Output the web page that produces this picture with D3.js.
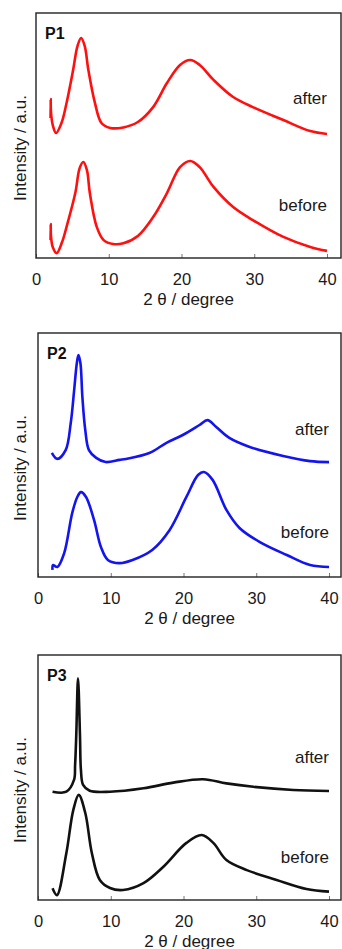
<!DOCTYPE html>
<html>
<head>
<meta charset="utf-8">
<script src="https://cdn.jsdelivr.net/npm/d3@7"></script>
<style>
  body { margin: 0; background: #fff; }
  svg { display: block; font-family: "Liberation Sans", Arial, sans-serif; }
</style>
</head>
<body>
<svg width="342" height="949"></svg>
<script>
// 2 theta (degree) / intensity (a.u., 0-100 per panel)
const xTicks = [0, 10, 20, 30, 40];

const p1AfterX = [2.0, 2.02, 2.06, 2.3, 2.75, 3.5, 4.2, 5.1, 5.7, 6.2, 6.7, 7.2, 8.1, 9.0, 10.2, 12.0, 14.0, 16.1, 18, 19.8, 21.2, 22.5, 24.4, 27.1, 29.8, 34, 37.7, 40];
const p1AfterY = [57.1, 64.9, 59.6, 54.3, 51.0, 55.1, 63.3, 76.7, 86.5, 89.8, 86.5, 76.7, 63.3, 55.1, 53.1, 53.3, 55.5, 61.6, 71.4, 78.8, 80.8, 78.8, 72.7, 65.7, 61.6, 56.3, 51.8, 50.6];
const p1BeforeX = [2.0, 2.02, 2.06, 2.3, 2.85, 3.6, 4.2, 5.4, 6.0, 6.5, 7.0, 7.4, 8.35, 9.3, 10.6, 12.0, 14.0, 16.1, 18, 19.8, 21.2, 22.5, 24.4, 27.1, 29.8, 34, 37.7, 40];
const p1BeforeY = [7.3, 13.9, 9.0, 4.5, 2.0, 6.6, 12.7, 26.5, 36.7, 39.2, 35.9, 26.5, 12.7, 7.3, 5.7, 6.0, 9.0, 16.7, 26.5, 37.1, 39.6, 37.1, 29.0, 20.8, 15.5, 8.6, 4.5, 2.9];

const p2AfterX = [1.9, 2.66, 3.8, 4.5, 4.97, 5.34, 5.56, 5.83, 6.1, 6.5, 7.0, 8.0, 9.3, 11.2, 12.1, 15.3, 17.6, 19.9, 22.2, 23.3, 24.5, 26.3, 29.1, 33.7, 37.4, 40];
const p2AfterY = [50.9, 48.4, 52.0, 63.1, 76.6, 87.7, 91.0, 87.7, 73.8, 60.2, 52.0, 48.8, 47.1, 48.0, 48.4, 50.8, 54.9, 58.2, 62.3, 64.3, 61.5, 57.0, 53.3, 49.6, 47.5, 47.1];
const p2BeforeX = [2.0, 2.05, 2.66, 3.6, 4.7, 5.4, 5.9, 6.6, 7.7, 8.65, 9.6, 11.2, 13, 15.7, 18.1, 20.4, 22, 22.8, 24, 25.9, 27.7, 30.5, 34.2, 37.4, 40];
const p2BeforeY = [2.9, 4.9, 4.1, 9.8, 26.2, 32.8, 34.8, 32.8, 23.4, 12.3, 7.0, 5.7, 7.0, 11.1, 19.3, 32.8, 41.8, 43.0, 39.8, 27.5, 20.1, 14.3, 9.0, 4.9, 4.1];

const p3AfterX = [2.0, 3.9, 4.95, 5.1, 5.26, 5.5, 5.77, 5.9, 6.2, 7.1, 9.9, 14.5, 18.6, 22.7, 25.9, 29.6, 35.1, 40];
const p3AfterY = [44.2, 44.2, 49.0, 55.1, 67.3, 90.5, 67.3, 53.1, 47.0, 44.6, 44.2, 45.6, 47.9, 49.3, 47.6, 46.2, 44.9, 44.5];
const p3BeforeX = [2.0, 2.6, 3.9, 4.85, 5.6, 6.5, 7.4, 8.5, 9.9, 11.7, 14.5, 17.2, 20.4, 22.5, 24.1, 25.9, 28.7, 32.8, 36.9, 40];
const p3BeforeY = [4.8, 2.0, 19.2, 36.7, 42.9, 35.5, 19.2, 8.2, 4.9, 4.1, 6.9, 13.5, 23.3, 26.5, 23.3, 16.3, 12.2, 8.2, 4.5, 3.4];

const panels = [
  { name: "P1", color: "#ff1010", left: 36, top: 13, bottom: 258,
    after: [p1AfterX, p1AfterY], before: [p1BeforeX, p1BeforeY], afterLabel: 62.9, beforeLabel: 19.2 },
  { name: "P2", color: "#1414f0", left: 38, top: 333, bottom: 577,
    after: [p2AfterX, p2AfterY], before: [p2BeforeX, p2BeforeY], afterLabel: 58.2, beforeLabel: 16.0 },
  { name: "P3", color: "#111111", left: 38, top: 655, bottom: 900,
    after: [p3AfterX, p3AfterY], before: [p3BeforeX, p3BeforeY], afterLabel: 55.9, beforeLabel: 15.1 },
];

const svg = d3.select("svg");
const right = 341;
const textColor = "#1a1a1a";

panels.forEach((p) => {
  const x = d3.scaleLinear().domain([0, 40]).range([p.left, p.left + 291]);
  const y = d3.scaleLinear().domain([0, 100]).range([p.bottom, p.top]);
  const g = svg.append("g");

  // bottom axis, inward ticks
  const axis = g
    .append("g")
    .attr("transform", `translate(0,${p.bottom})`)
    .call(d3.axisBottom(x).tickValues(xTicks).tickSizeInner(-4).tickSizeOuter(0).tickPadding(15));
  axis.select(".domain").remove();
  axis.selectAll(".tick line").attr("stroke", "#777").attr("stroke-width", 1);
  axis.selectAll(".tick text")
    .attr("font-size", 16.5)
    .attr("font-family", "Liberation Sans, Arial, sans-serif")
    .attr("fill", textColor);

  // frame
  g.append("rect")
    .attr("x", p.left)
    .attr("y", p.top)
    .attr("width", right - p.left)
    .attr("height", p.bottom - p.top)
    .attr("fill", "none")
    .attr("stroke", "#222")
    .attr("stroke-width", 1.4);

  const line = d3
    .line()
    .x((d) => x(d[0]))
    .y((d) => y(d[1]))
    .curve(d3.curveCatmullRom.alpha(0.5));

  [p.after, p.before].forEach((s) => {
    g.append("path")
      .datum(d3.zip(s[0], s[1]))
      .attr("fill", "none")
      .attr("stroke", p.color)
      .attr("stroke-width", 2.6)
      .attr("stroke-linejoin", "round")
      .attr("d", line);
  });

  // labels
  g.append("text")
    .attr("x", p.left + 9)
    .attr("y", p.top + 26)
    .attr("font-size", 16)
    .attr("font-weight", "bold")
    .attr("fill", "#111")
    .text(p.name);

  g.append("text")
    .attr("x", x(40))
    .attr("y", y(p.afterLabel))
    .attr("text-anchor", "end")
    .attr("font-size", 17)
    .attr("fill", textColor)
    .text("after");

  g.append("text")
    .attr("x", x(40))
    .attr("y", y(p.beforeLabel))
    .attr("text-anchor", "end")
    .attr("font-size", 17)
    .attr("fill", textColor)
    .text("before");

  // axis titles
  g.append("text")
    .attr("x", (p.left + right) / 2)
    .attr("y", p.bottom + 47)
    .attr("text-anchor", "middle")
    .attr("font-size", 17)
    .attr("fill", textColor)
    .text("2 θ / degree");

  g.append("text")
    .attr("transform", `translate(26,${p.top + 135}) rotate(-90)`)
    .attr("text-anchor", "middle")
    .attr("font-size", 17)
    .attr("fill", textColor)
    .text("Intensity / a.u.");
});
</script>
</body>
</html>
